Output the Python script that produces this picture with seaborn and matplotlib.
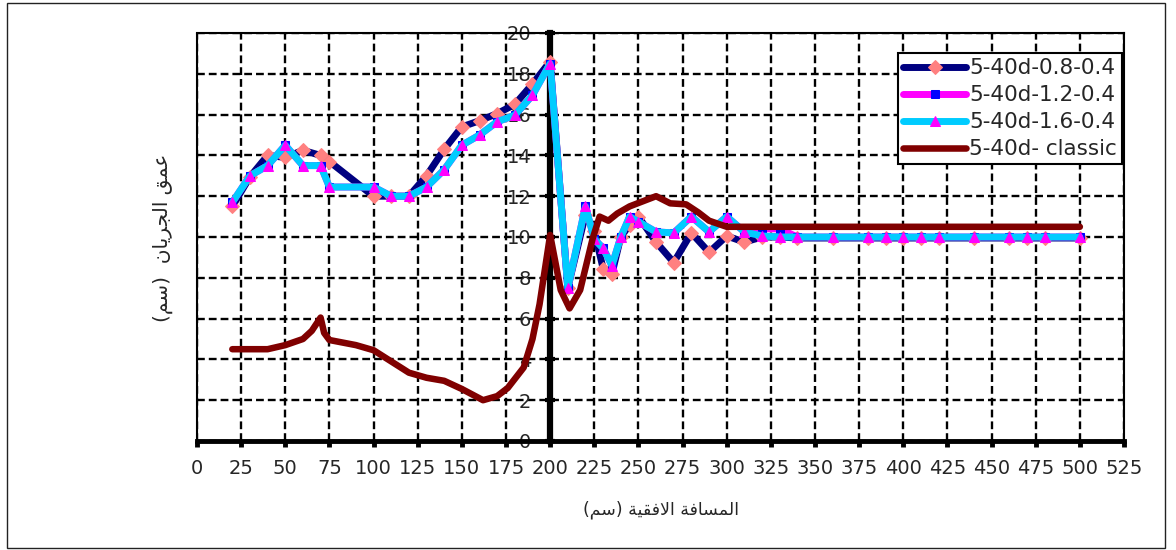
import numpy as np
import matplotlib
matplotlib.use("Agg")
import matplotlib.pyplot as plt
from matplotlib.patches import Rectangle
import seaborn as sns

# x positions shared by the three model runs (cm)
x_model = [20, 30, 40, 50, 60, 70, 75, 100, 110, 120, 130, 140, 150, 160, 170, 180, 190, 200,
           210, 220, 225, 230, 235, 240, 245, 250, 260, 270, 280, 290, 300, 310, 320, 330, 340,
           360, 380, 390, 400, 410, 420, 440, 460, 470, 480, 500]
depth_08 = [11.5, 12.95, 14.0, 13.9, 14.25, 14.0, 13.7, 12.0, 12.0, 12.0, 13.0, 14.3, 15.4, 15.7,
            16.05, 16.5, 17.5, 18.6,
            7.5, 11.1, 10.3, 8.45, 8.2, 10.0, 10.6, 11.0, 9.75, 8.75, 10.2, 9.25, 10.05, 9.75,
            10.0, 10.0, 9.95,
            9.95, 9.95, 9.95, 9.95, 9.95, 9.95, 9.95, 9.95, 9.95, 9.95, 9.95]
depth_12 = [11.7, 13.0, 13.5, 14.5, 13.5, 13.5, 12.45, 12.45, 12.0, 12.0, 12.45, 13.3, 14.5, 15.0,
            15.65, 15.97, 16.95, 18.5,
            7.5, 11.5, 9.9, 9.45, 8.6, 10.0, 11.0, 10.75, 10.25, 10.2, 11.0, 10.25, 11.0, 10.25,
            10.4, 10.4, 10.0,
            10.0, 10.0, 10.0, 10.0, 10.0, 10.0, 10.0, 10.0, 10.0, 10.0, 10.0]
depth_16 = [11.7, 13.0, 13.5, 14.5, 13.5, 13.5, 12.45, 12.45, 12.0, 12.0, 12.45, 13.3, 14.5, 15.0,
            15.65, 15.97, 16.95, 18.5,
            7.5, 11.5, 9.9, 9.45, 8.6, 10.0, 11.0, 10.75, 10.25, 10.2, 11.0, 10.25, 11.0, 10.25,
            10.05, 10.0, 10.0,
            10.0, 10.0, 10.0, 10.0, 10.0, 10.0, 10.0, 10.0, 10.0, 10.0, 10.0]

# classic solution
x_classic = [20, 40, 50, 60, 65, 70, 72, 75, 90, 100, 110, 120, 130, 140, 150, 162, 170, 176,
             185, 190, 194, 200, 206, 211, 217, 224, 228, 233, 238, 245, 260, 268, 277, 284,
             290, 300, 500]
depth_classic = [4.5, 4.5, 4.7, 5.0, 5.4, 6.05, 5.3, 4.95, 4.7, 4.45, 3.9, 3.35, 3.1, 2.95, 2.55,
                 2.0, 2.2, 2.6, 3.6, 5.0, 6.7, 10.1, 7.4, 6.5, 7.4, 9.9, 11.0, 10.8, 11.15, 11.5,
                 12.0, 11.65, 11.6, 11.2, 10.8, 10.5, 10.5]

labels = ["5-40d-0.8-0.4", "5-40d-1.2-0.4", "5-40d-1.6-0.4", "5-40d- classic"]
xlabel_ar = "المسافة الافقية (سم)"
ylabel_ar = "عمق الجريان  (سم)"

# matplotlib does no arabic shaping: pick presentation forms by hand
# (isolated, final, initial, medial)
FORMS = {
    'ا': ('\ufe8d', '\ufe8e', None, None),
    'ل': ('\ufedd', '\ufede', '\ufedf', '\ufee0'),
    'م': ('\ufee1', '\ufee2', '\ufee3', '\ufee4'),
    'س': ('\ufeb1', '\ufeb2', '\ufeb3', '\ufeb4'),
    'ف': ('\ufed1', '\ufed2', '\ufed3', '\ufed4'),
    'ة': ('\ufe93', '\ufe94', None, None),
    'ق': ('\ufed5', '\ufed6', '\ufed7', '\ufed8'),
    'ي': ('\ufef1', '\ufef2', '\ufef3', '\ufef4'),
    'ع': ('\ufec9', '\ufeca', '\ufecb', '\ufecc'),
    'ج': ('\ufe9d', '\ufe9e', '\ufe9f', '\ufea0'),
    'ر': ('\ufead', '\ufeae', None, None),
    'ن': ('\ufee5', '\ufee6', '\ufee7', '\ufee8'),
}


def joins_left(c):
    return c in FORMS and FORMS[c][2] is not None


def shape(text):
    out = []
    i, n = 0, len(text)
    while i < n:
        c = text[i]
        if c not in FORMS:
            out.append(c)
            i += 1
            continue
        link_prev = i > 0 and joins_left(text[i - 1])
        if c == 'ل' and i + 1 < n and text[i + 1] == 'ا':
            out.append('\ufefc' if link_prev else '\ufefb')
            i += 2
            continue
        link_next = joins_left(c) and i + 1 < n and text[i + 1] in FORMS
        iso, fin, ini, med = FORMS[c]
        if link_prev and link_next:
            out.append(med)
        elif link_prev:
            out.append(fin)
        elif link_next:
            out.append(ini)
        else:
            out.append(iso)
        i += 1
    vis = ''.join(reversed(out))
    return vis.translate(str.maketrans('()', ')('))


sns.set_style("white")
plt.rcParams['font.family'] = ['DejaVu Sans']

fig = plt.figure(figsize=(11.76, 5.5), dpi=100)
ax = fig.add_axes([197 / 1176, 1 - 441 / 550, 927 / 1176, 408 / 550])

common = dict(estimator=None, sort=False, ax=ax, solid_capstyle='round', solid_joinstyle='round')
sns.lineplot(x=x_model, y=depth_08, color='#000080', linewidth=5, marker='D', markersize=7.5,
             markerfacecolor='#FF8080', markeredgecolor='#FF8080', label=labels[0], zorder=3, **common)
sns.lineplot(x=x_model, y=depth_12, color='#FF00FF', linewidth=5, marker='s', markersize=5.5,
             markerfacecolor='#0000FF', markeredgecolor='#0000FF', label=labels[1], zorder=4, **common)
sns.lineplot(x=x_model, y=depth_16, color='#00CCFF', linewidth=5, marker='^', markersize=7.5,
             markerfacecolor='#FF00FF', markeredgecolor='#FF00FF', label=labels[2], zorder=5, **common)
sns.lineplot(x=x_classic, y=depth_classic, color='#800000', linewidth=4.7, label=labels[3],
             zorder=6, **common)

ax.set_xlim(0, 525)
ax.set_ylim(0, 20)
ax.set_xticks(np.arange(0, 526, 25))
ax.set_yticks(np.arange(0, 21, 2))
ax.set_xlabel("")
ax.set_ylabel("")

ax.set_axisbelow(True)
ax.grid(True, color='black', linestyle=(0, (3.3, 1.7)), linewidth=1.7)

# y axis sits at x = 200
ax.spines['left'].set_position(('data', 200))
ax.spines['left'].set_linewidth(4.5)
ax.spines['bottom'].set_linewidth(3.5)
for side in ['top', 'right']:
    ax.spines[side].set_linewidth(1.5)
    ax.spines[side].set_color('black')
ax.spines['left'].set_color('black')
ax.spines['bottom'].set_color('black')
ax.axvline(0, color='black', linewidth=1.5, clip_on=False, zorder=2.6)

ax.tick_params(axis='y', direction='inout', length=7, width=3, pad=10, labelsize=14,
               color='black', left=True)
ax.tick_params(axis='x', direction='out', length=4, width=3.5, pad=9, labelsize=14,
               color='black', bottom=True)

leg = ax.legend(loc='upper right', bbox_to_anchor=(0.998, 0.951), borderaxespad=0,
                fontsize=15.5, handlelength=2.9, handletextpad=0.15, labelspacing=0.32,
                borderpad=0.25, fancybox=False, framealpha=1, edgecolor='black')
leg.get_frame().set_linewidth(1.5)

fig.text(661 / 1176, 1 - 510 / 550, shape(xlabel_ar), ha='center', va='center', fontsize=12.5)
fig.text(163 / 1176, 1 - 238 / 550, shape(ylabel_ar), ha='center', va='center', fontsize=14.5,
         rotation=90)

fig.add_artist(Rectangle((7 / 1176, 2 / 550), 1158 / 1176, 545 / 550, transform=fig.transFigure,
                         fill=False, edgecolor='#222222', linewidth=1))

fig.savefig("out.png", dpi=100)
